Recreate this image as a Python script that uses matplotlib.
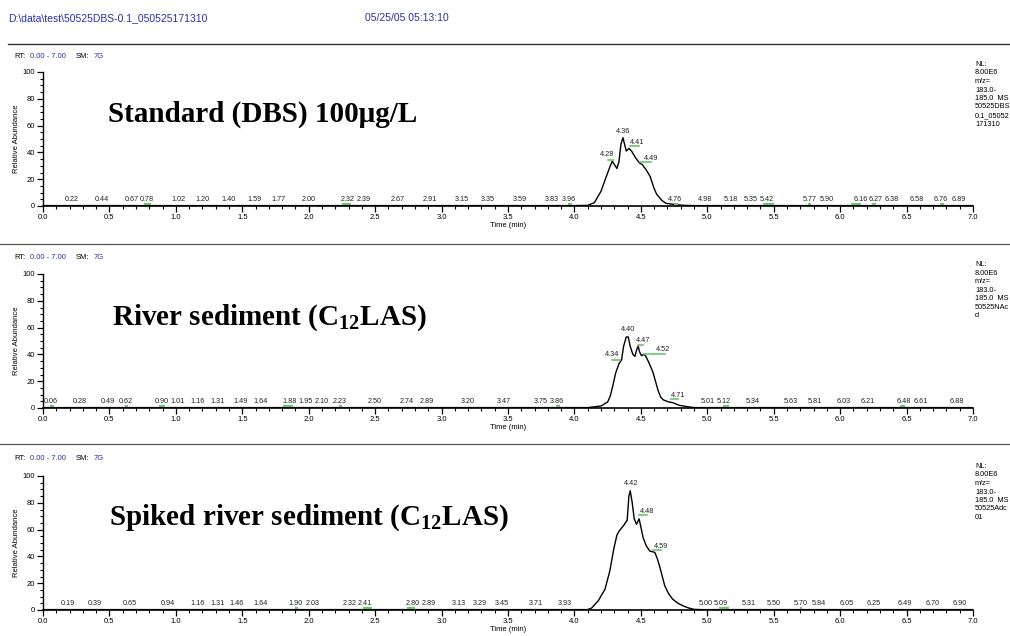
import numpy as np
import matplotlib
matplotlib.use("Agg")
import matplotlib.pyplot as plt
from matplotlib.lines import Line2D

plt.rcParams['font.family'] = ['Liberation Sans', 'DejaVu Sans']
plt.rcParams['mathtext.fontset'] = 'custom'
plt.rcParams['mathtext.bf'] = 'Liberation Serif:bold'
plt.rcParams['mathtext.rm'] = 'Liberation Serif:bold'

BLUE = '#2b2fa8'
GREEN = '#6cc36c'

# ---- chromatogram traces (time in min, relative abundance) ----
std_t = [0.0, 4.00, 4.10, 4.15, 4.20, 4.24, 4.27, 4.285, 4.30, 4.32, 4.335, 4.35, 4.365,
         4.38, 4.39, 4.41, 4.43, 4.46, 4.49, 4.51, 4.54, 4.57, 4.60, 4.62, 4.66, 4.69,
         4.75, 4.82, 4.90, 7.0]
std_y = [0.3, 0.3, 0.5, 2.5, 11, 22, 30, 33.5, 31, 28, 33, 46, 51,
         45, 41, 43, 41, 36, 32, 31, 27, 22, 13, 8.6, 4, 2,
         1.2, 0.5, 0.3, 0.3]

river_t = [0.0, 4.10, 4.20, 4.25, 4.27, 4.29, 4.31, 4.335, 4.355, 4.37, 4.39, 4.405,
           4.42, 4.44, 4.455, 4.47, 4.48, 4.49, 4.505, 4.52, 4.535, 4.56, 4.59, 4.61,
           4.63, 4.65, 4.67, 4.71, 4.74, 4.79, 4.85, 4.90, 7.0]
river_y = [0.3, 0.3, 1.5, 4.5, 9, 17, 26, 33, 36, 46, 53, 53,
           46, 40, 38.5, 44, 46, 42, 39, 40, 39, 34, 27, 20,
           13, 8, 6, 4.5, 4, 2, 1, 0.3, 0.3]

spiked_t = [0.0, 4.10, 4.13, 4.18, 4.23, 4.266, 4.297, 4.32, 4.34, 4.37, 4.397, 4.41,
            4.42, 4.435, 4.45, 4.467, 4.487, 4.50, 4.517, 4.54, 4.567, 4.605, 4.625,
            4.643, 4.68, 4.71, 4.74, 4.78, 4.82, 4.86, 4.90, 4.95, 7.0]
spiked_y = [0.3, 0.3, 1.5, 7, 15.5, 29, 46, 56, 59.4, 63, 67, 85,
            89, 80, 68, 64, 68, 62, 54, 48, 44, 43, 38,
            32, 18, 12, 8, 5, 3, 1.5, 0.5, 0.3, 0.3]

# ---- baseline peak labels ----
std_base = [0.22, 0.44, 0.67, 0.78, 1.02, 1.20, 1.40, 1.59, 1.77, 2.00, 2.32, 2.39, 2.67,
            2.91, 3.15, 3.35, 3.59, 3.83, 3.96, 4.76, 4.98, 5.18, 5.35, 5.42, 5.77, 5.90,
            6.16, 6.27, 6.38, 6.58, 6.76, 6.89]
river_base = [0.06, 0.28, 0.49, 0.62, 0.90, 1.01, 1.16, 1.31, 1.49, 1.64, 1.88, 1.95,
              2.10, 2.23, 2.50, 2.74, 2.89, 3.20, 3.47, 3.75, 3.86, 5.01, 5.12, 5.34,
              5.63, 5.81, 6.03, 6.21, 6.48, 6.61, 6.88]
spiked_base = [0.19, 0.39, 0.65, 0.94, 1.16, 1.31, 1.46, 1.64, 1.90, 2.03, 2.32, 2.41,
               2.80, 2.89, 3.13, 3.29, 3.45, 3.71, 3.93, 5.00, 5.09, 5.31, 5.50, 5.70,
               5.84, 6.05, 6.25, 6.49, 6.70, 6.90]

# main peak labels: (text, label x, label y, marker start, marker end, marker y)
std_peaks = [("4.28", 4.245, 36, 4.25, 4.29, 34),
             ("4.36", 4.367, 53, None, None, None),
             ("4.41", 4.475, 45, 4.417, 4.485, 45),
             ("4.49", 4.575, 33, 4.49, 4.58, 33)]
river_peaks = [("4.34", 4.28, 37, 4.28, 4.34, 36),
               ("4.40", 4.404, 56, None, None, None),
               ("4.47", 4.52, 48, 4.475, 4.517, 47),
               ("4.52", 4.67, 41, 4.525, 4.68, 40),
               ("4.71", 4.78, 7, 4.725, 4.78, 6.5)]
spiked_peaks = [("4.42", 4.43, 92, None, None, None),
                ("4.48", 4.55, 71, 4.487, 4.547, 71),
                ("4.59", 4.655, 45, 4.59, 4.655, 45)]

# small green integration marks on baseline
std_marks = [(0.76, 0.81), (2.25, 2.32), (3.95, 3.98), (4.75, 4.78), (5.42, 5.50),
             (5.76, 5.78), (6.08, 6.16), (6.24, 6.27), (6.75, 6.78)]
river_marks = [(0.05, 0.08), (0.62, 0.64), (0.87, 0.92), (1.81, 1.88), (2.23, 2.25),
               (3.86, 3.89), (5.12, 5.16), (6.45, 6.49)]
spiked_marks = [(1.90, 1.92), (2.41, 2.48), (2.74, 2.80), (5.09, 5.16), (5.70, 5.71)]

titles = ["Standard (DBS) 100\u03bcg/L",
          r"River sediment (C$_{\mathbf{12}}$LAS)",
          r"Spiked river sediment (C$_{\mathbf{12}}$LAS)"]
title_pos = [(0.49, 63), (0.52, 62), (0.50, 64)]
side_text = ["NL:\n8.00E6\nm/z=\n183.0-\n185.0  MS\n50525DBS\n0.1_05052\n171310",
             "NL:\n8.00E6\nm/z=\n183.0-\n185.0  MS\n50525NAc\nd",
             "NL:\n8.00E6\nm/z=\n183.0-\n185.0  MS\n50525Adc\n01"]

fig = plt.figure(figsize=(10.1, 6.36), dpi=100)

# header
fig.text(8 / 1010, 1 - 18 / 636, "D:\\data\\test\\50525DBS-0.1_050525171310",
         color=BLUE, fontsize=7.5, va='center')
fig.text(365 / 1010, 1 - 18 / 636, "05/25/05 05:13:10", color=BLUE, fontsize=7.5, va='center')
fig.add_artist(Line2D([8 / 1010, 1], [1 - 44 / 636] * 2, color='#333333', lw=1.0,
                      transform=fig.transFigure))

panel_bottoms = [206, 408, 610]   # pixel row of y=0
rt_rows = [57, 257, 459]
sep_rows = [None, 244, 444]

traces = [(std_t, std_y), (river_t, river_y), (spiked_t, spiked_y)]
bases = [std_base, river_base, spiked_base]
peaks = [std_peaks, river_peaks, spiked_peaks]
marks = [std_marks, river_marks, spiked_marks]

for i in range(3):
    bottom = 1 - panel_bottoms[i] / 636
    ax = fig.add_axes([43 / 1010, bottom, 930 / 1010, 134 / 636])
    t, y = traces[i]
    ax.plot(t, y, color='black', lw=1.0)

    # labels closer than ~0.12 min get nudged apart, as the instrument software does
    lb = bases[i]
    xs = list(lb)
    for k in range(len(xs) - 1):
        gap = lb[k + 1] - lb[k]
        if gap < 0.12:
            push = (0.12 - gap) / 2
            xs[k] -= push
            xs[k + 1] += push
    for b, xb in zip(lb, xs):
        ax.text(xb, 2.0, f"{b:.2f}", fontsize=5.2, ha='center', va='bottom', color='#222222')
    for a, b in marks[i]:
        ax.plot([a, b], [1.2, 1.2], color=GREEN, lw=1.6, solid_capstyle='butt')
    for lab, lx, ly, m0, m1, my in peaks[i]:
        ax.text(lx, ly, lab, fontsize=5.3, ha='center', va='bottom', color='#222222')
        if m0 is not None:
            ax.plot([m0, m1], [my, my], color=GREEN, lw=1.2)

    tx, ty = title_pos[i]
    ax.text(tx, ty, titles[i], family='Liberation Serif', weight='bold', fontsize=21,
            va='baseline', ha='left')

    ax.set_xlim(0, 7)
    ax.set_ylim(0, 100)
    ax.set_xticks(np.arange(0, 7.01, 0.5))
    ax.set_xticks(np.arange(0, 7.01, 0.1), minor=True)
    ax.set_xticklabels([f"{v:.1f}" for v in np.arange(0, 7.01, 0.5)])
    ax.set_yticks([0, 20, 40, 60, 80, 100])
    ax.set_yticks(np.arange(0, 101, 5), minor=True)
    ax.tick_params(axis='both', which='major', labelsize=5.5, length=4, width=0.9, pad=1.5)
    ax.tick_params(axis='both', which='minor', length=2.5, width=0.8)
    for s in ['top', 'right']:
        ax.spines[s].set_visible(False)
    ax.spines['left'].set_linewidth(1.0)
    ax.spines['bottom'].set_linewidth(1.2)
    ax.set_ylabel("Relative Abundance", fontsize=5.5, labelpad=2)
    ax.set_xlabel("Time (min)", fontsize=5.5, labelpad=1)
    ax.patch.set_alpha(0)

    # side annotation
    fig.text(975 / 1010, 1 - (rt_rows[i] + 4) / 636, side_text[i], fontsize=5.3,
             va='top', ha='left', linespacing=1.3)

    # RT line
    yy = 1 - rt_rows[i] / 636
    fig.text(14 / 1010, yy, "RT:", fontsize=5.5, va='center')
    fig.text(30 / 1010, yy, "0.00 - 7.00", fontsize=5.5, va='center', color=BLUE)
    fig.text(76 / 1010, yy, "SM:", fontsize=5.5, va='center')
    fig.text(94 / 1010, yy, "7G", fontsize=5.5, va='center', color=BLUE)

    if sep_rows[i] is not None:
        fig.add_artist(Line2D([0, 1], [1 - sep_rows[i] / 636] * 2, color='#555555', lw=0.9,
                              transform=fig.transFigure))

fig.savefig("out.png", dpi=100)
